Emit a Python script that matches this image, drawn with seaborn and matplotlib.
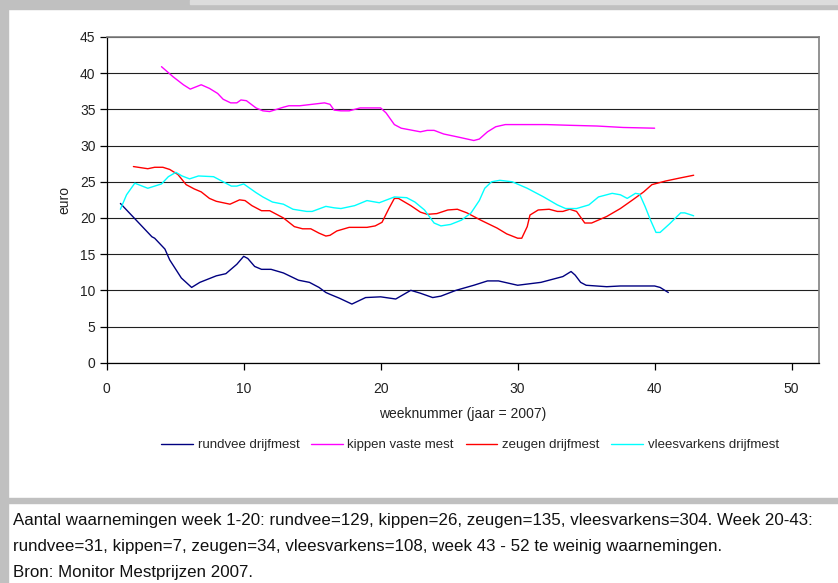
import matplotlib
matplotlib.use("Agg")
import matplotlib.pyplot as plt
import pandas as pd
import seaborn as sns

# weekly manure prices (euro)
rundvee_week = [1.0, 1.9, 3.3, 3.5, 4.25, 4.6, 5.45, 6.2, 6.8, 8.0, 8.7, 9.5, 10.0, 10.3, 10.8, 11.3, 12.0, 12.9,
                14.0, 14.8, 15.5, 16.0, 16.3, 17.0, 17.9, 18.9, 20.0, 21.1, 22.2, 22.9, 23.8, 24.4, 25.5, 26.8,
                27.8, 28.6, 30.0, 31.7, 33.3, 33.9, 34.2, 34.6, 35.0, 36.5, 37.5, 40.0, 40.4, 41.0]
rundvee_euro = [22.0, 20.2, 17.4, 17.2, 15.7, 14.2, 11.7, 10.4, 11.1, 12.0, 12.3, 13.6, 14.7, 14.4, 13.3, 12.9, 12.9, 12.4,
                11.4, 11.1, 10.4, 9.7, 9.45, 8.9, 8.1, 9.0, 9.1, 8.8, 10.0, 9.6, 9.0, 9.2, 10.0, 10.7,
                11.3, 11.3, 10.7, 11.1, 11.9, 12.6, 12.1, 11.1, 10.7, 10.5, 10.6, 10.6, 10.4, 9.7]

kippen_week = [4.0, 4.85, 5.6, 6.1, 6.9, 7.5, 8.1, 8.5, 9.05, 9.5, 9.8, 10.2, 10.9, 11.4, 11.9, 12.9, 13.3, 14.1,
               15.0, 15.9, 16.3, 16.6, 17.1, 17.7, 18.5, 20.0, 20.4, 21.0, 21.5, 22.9, 23.4, 23.9, 24.6, 25.6,
               26.8, 27.2, 27.8, 28.4, 29.1, 32.1, 33.8, 35.8, 37.7, 40.0]
kippen_euro = [40.9, 39.5, 38.4, 37.8, 38.4, 37.9, 37.2, 36.4, 35.9, 35.9, 36.3, 36.2, 35.2, 34.8, 34.7, 35.3, 35.5, 35.5,
               35.7, 35.9, 35.7, 34.9, 34.8, 34.8, 35.2, 35.2, 34.5, 32.9, 32.4, 31.9, 32.1, 32.1, 31.6, 31.2,
               30.7, 30.9, 31.9, 32.6, 32.9, 32.9, 32.8, 32.7, 32.5, 32.4]

zeugen_week = [1.95, 3.0, 3.5, 4.1, 4.6, 5.2, 5.8, 6.4, 6.9, 7.5, 8.0, 9.0, 9.7, 10.1, 10.6, 11.3, 11.9, 12.9,
               13.7, 14.3, 14.9, 15.5, 16.0, 16.3, 16.8, 17.7, 19.0, 19.6, 20.1, 20.6, 21.0, 21.3, 22.2, 22.9,
               23.4, 24.1, 24.9, 25.6, 26.3, 27.3, 28.5, 29.2, 30.0, 30.3, 30.7, 30.9, 31.5, 32.3, 32.9, 33.3,
               33.8, 34.3, 34.9, 35.4, 36.5, 37.5, 38.4, 39.2, 39.8, 40.8, 41.8, 42.85]
zeugen_euro = [27.1, 26.8, 27.0, 27.0, 26.7, 26.0, 24.6, 24.0, 23.6, 22.7, 22.3, 21.9, 22.5, 22.4, 21.7, 21.0, 21.0, 20.0,
               18.8, 18.5, 18.5, 17.9, 17.5, 17.6, 18.2, 18.7, 18.7, 18.9, 19.4, 21.3, 22.7, 22.7, 21.7, 20.8,
               20.5, 20.6, 21.1, 21.2, 20.7, 19.7, 18.6, 17.8, 17.2, 17.2, 18.8, 20.4, 21.1, 21.2, 20.9, 20.9,
               21.2, 20.9, 19.3, 19.3, 20.2, 21.3, 22.5, 23.6, 24.6, 25.1, 25.5, 25.9]

vlees_week = [1.0, 1.45, 2.05, 3.0, 4.0, 4.5, 5.05, 5.5, 6.05, 6.7, 7.8, 8.5, 9.1, 9.5, 10.0, 10.3, 10.9, 11.4,
              12.1, 12.9, 13.6, 14.6, 15.0, 16.0, 16.6, 17.1, 18.1, 19.0, 19.9, 21.0, 21.9, 22.5, 23.2, 23.9,
              24.4, 25.1, 25.9, 26.6, 27.2, 27.6, 28.1, 28.7, 29.6, 30.7, 31.9, 32.9, 33.5, 34.3, 35.2, 35.9,
              36.9, 37.5, 38.0, 38.6, 38.9, 39.3, 39.7, 40.1, 40.4, 41.1, 41.9, 42.2, 42.85]
vlees_euro = [21.2, 23.2, 24.8, 24.1, 24.7, 25.7, 26.3, 25.8, 25.4, 25.8, 25.7, 25.0, 24.4, 24.4, 24.7, 24.3, 23.5, 22.9,
              22.2, 21.9, 21.2, 20.9, 20.9, 21.6, 21.4, 21.3, 21.7, 22.4, 22.1, 22.9, 22.8, 22.2, 21.1, 19.3,
              18.9, 19.1, 19.7, 20.7, 22.4, 24.1, 25.0, 25.2, 25.0, 24.1, 22.9, 21.8, 21.3, 21.3, 21.8, 22.9,
              23.4, 23.2, 22.7, 23.4, 23.3, 21.6, 19.7, 18.0, 18.0, 19.2, 20.7, 20.7, 20.3]

series_names = ["rundvee drijfmest", "kippen vaste mest", "zeugen drijfmest", "vleesvarkens drijfmest"]
series_colors = ["#000080", "#ff00ff", "#ff0000", "#00ffff"]

footnote = ["Aantal waarnemingen week 1-20: rundvee=129, kippen=26, zeugen=135, vleesvarkens=304. Week 20-43:",
            "rundvee=31, kippen=7, zeugen=34, vleesvarkens=108, week 43 - 52 te weinig waarnemingen.",
            "Bron: Monitor Mestprijzen 2007."]

# long table for seaborn
frames = []
for name, wk, eu in zip(series_names,
                        [rundvee_week, kippen_week, zeugen_week, vlees_week],
                        [rundvee_euro, kippen_euro, zeugen_euro, vlees_euro]):
    frames.append(pd.DataFrame({"week": wk, "euro": eu, "serie": name}))
df = pd.concat(frames, ignore_index=True)

sns.set_style("white")
plt.rcParams["font.family"] = ["Liberation Sans", "DejaVu Sans"]

W, H = 838, 583
fig = plt.figure(figsize=(W / 100, H / 100), dpi=100)

# grey frame pieces
grey = "#c0c0c0"
fig.patches.append(plt.Rectangle((0, 0), 8 / W, 1, transform=fig.transFigure, color=grey, zorder=0))
fig.patches.append(plt.Rectangle((0, 1 - 8.5 / H), 1, 8.5 / H, transform=fig.transFigure, color=grey, zorder=0))
fig.patches.append(plt.Rectangle((190 / W, 1 - 4 / H), 1, 4 / H, transform=fig.transFigure, color="#dcdcdc", zorder=1))
fig.patches.append(plt.Rectangle((8 / W, 1 - 502.5 / H), 1, 4.5 / H, transform=fig.transFigure, color=grey, zorder=0))

left, right, top, bottom = 106.7, 819, 37, 362.7
ax = fig.add_axes([left / W, 1 - bottom / H, (right - left) / W, (bottom - top) / H])

# each series as one continuous line, in data order
for name, col in zip(series_names, series_colors):
    sub = df[df["serie"] == name]
    sns.lineplot(x=sub["week"].values, y=sub["euro"].values, color=col, linewidth=1.0, sort=False,
                 estimator=None, ax=ax, label=name)

ax.set_xlim(0, 52)
ax.set_ylim(0, 45)
ax.set_xticks(range(0, 51, 10))
ax.set_yticks(range(0, 46, 5))
ax.yaxis.grid(True, color="#202020", linewidth=0.8)
ax.xaxis.grid(False)
ax.set_axisbelow(True)
for s in ["left", "bottom"]:
    ax.spines[s].set_color("black")
    ax.spines[s].set_linewidth(0.9)
for s in ["top", "right"]:
    ax.spines[s].set_color("#808080")
    ax.spines[s].set_linewidth(1.2)
ax.tick_params(axis="both", direction="out", length=5, width=0.9, color="black", labelsize=10,
               labelcolor="#222222", left=True, bottom=True, pad=3)
ax.tick_params(axis="x", pad=9)
ax.set_xlabel("weeknummer (jaar = 2007)", fontsize=10, color="#222222", labelpad=8)
ax.set_ylabel("euro", fontsize=10, color="#222222", labelpad=6)

ax.legend(loc="center", bbox_to_anchor=(470 / W, 1 - 445 / H), bbox_transform=fig.transFigure, ncol=4,
          frameon=False, handlelength=2.4, handletextpad=0.35, columnspacing=0.9,
          prop={"size": 9.5})

for i, line in enumerate(footnote):
    fig.text(13 / W, 1 - (520 + 26 * i) / H, line, ha="left", va="center", fontsize=12.2,
             color="#111111")

fig.savefig("out.png", dpi=100)
